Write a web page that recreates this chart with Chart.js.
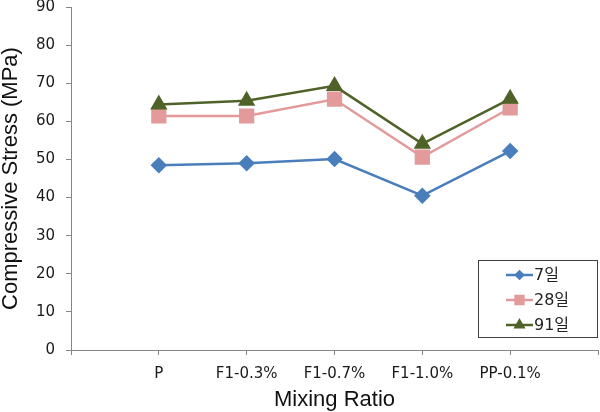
<!DOCTYPE html>
<html>
<head>
<meta charset="utf-8">
<script src="https://cdn.jsdelivr.net/npm/chart.js"></script>
<style>
  html, body { margin: 0; padding: 0; background: #fff; }
</style>
</head>
<body>
<canvas id="myChart" width="600" height="412"></canvas>
<script>
// categories on x axis
const mixes = ['P', 'F1-0.3%', 'F1-0.7%', 'F1-1.0%', 'PP-0.1%'];
// compressive stress (MPa) per curing age
const day7 = [48.5, 49.0, 50.1, 40.5, 52.2];
const day28 = [61.4, 61.4, 65.8, 50.6, 63.5];
const day91 = [64.4, 65.4, 69.3, 54.1, 65.9];
const seriesNames = ['7일', '28일', '91일'];
const yTicks = [0, 10, 20, 30, 40, 50, 60, 70, 80, 90];

const toPoints = vals => vals.map((v, i) => ({ x: i + 1, y: v }));

// legend box drawn inside the plot, bottom right
const boxLegend = {
    id: 'boxLegend',
    afterDraw(chart) {
        const ctx = chart.ctx;
        const area = chart.chartArea;
        const w = 120, h = 78;
        const x0 = area.right - w, y0 = area.bottom - h - 12;
        ctx.save();
        ctx.fillStyle = '#fff';
        ctx.fillRect(x0, y0, w, h);
        ctx.strokeStyle = '#404040';
        ctx.lineWidth = 1;
        ctx.strokeRect(x0 + 0.5, y0 + 0.5, w - 1, h - 1);
        chart.data.datasets.forEach((ds, i) => {
            const cy = y0 + 15 + i * 25;
            ctx.strokeStyle = ds.borderColor;
            ctx.lineWidth = 2.5;
            ctx.beginPath();
            ctx.moveTo(x0 + 28, cy);
            ctx.lineTo(x0 + 55, cy);
            ctx.stroke();
            ctx.fillStyle = ds.borderColor;
            ctx.strokeStyle = ds.borderColor;
            Chart.helpers.drawPoint(ctx, {
                pointStyle: ds.pointStyle,
                radius: ds.legendRadius,
                rotation: 0,
                borderWidth: 1
            }, x0 + 41.5, cy);
            ctx.fillStyle = '#222';
            ctx.font = '16px "DejaVu Sans", "Noto Sans CJK KR"';
            ctx.textAlign = 'left';
            ctx.textBaseline = 'middle';
            ctx.fillText(ds.label, x0 + 56, cy + 1);
        });
        ctx.restore();
    }
};

const ctx = document.getElementById('myChart').getContext('2d');
const myChart = new Chart(ctx, {
    type: 'line',
    data: {
        datasets: [{
            label: seriesNames[0],
            data: toPoints(day7),
            borderColor: '#4a7ebb',
            backgroundColor: '#4a7ebb',
            borderWidth: 2.5,
            pointStyle: 'rectRot',
            pointRadius: 6.5,
            legendRadius: 3.5,
            order: 3
        }, {
            label: seriesNames[1],
            data: toPoints(day28),
            borderColor: '#e39a9a',
            backgroundColor: '#e39a9a',
            borderWidth: 2.5,
            pointStyle: 'rect',
            pointRadius: 9,
            legendRadius: 5.5,
            order: 2
        }, {
            label: seriesNames[2],
            data: toPoints(day91),
            borderColor: '#4f6228',
            backgroundColor: '#4f6228',
            borderWidth: 2.5,
            pointStyle: 'triangle',
            pointRadius: 7.5,
            legendRadius: 4.5,
            order: 1
        }]
    },
    options: {
        responsive: false,
        animation: false,
        devicePixelRatio: 1,
        layout: { autoPadding: false, padding: { top: 7, right: 2, left: 0, bottom: 0 } },
        elements: {
            line: { tension: 0 },
            point: { borderWidth: 1, hoverRadius: 7 }
        },
        plugins: {
            legend: { display: false },
            tooltip: { enabled: false }
        },
        scales: {
            x: {
                type: 'linear',
                min: 0,
                max: mixes.length + 1,
                afterFit: s => {
                    s.height = 62;
                    s.paddingLeft = 0;
                    s.paddingRight = 0;
                },
                afterBuildTicks: s => {
                    s.ticks = [0, 1, 2, 3, 4, 5, 6].map(v => ({ value: v }));
                },
                ticks: {
                    autoSkip: false,
                    maxRotation: 0,
                    padding: 10,
                    color: '#1a1a1a',
                    font: { family: 'DejaVu Sans', size: 15 },
                    callback: v => mixes[v - 1] || ''
                },
                grid: { drawOnChartArea: false, tickLength: 5, color: '#868686' },
                border: { color: '#868686', width: 1 },
                title: {
                    display: true,
                    text: 'Mixing Ratio',
                    color: '#111',
                    font: { family: 'Liberation Sans', size: 22, lineHeight: 1 },
                    padding: { top: 0, bottom: 1 }
                }
            },
            y: {
                min: 0,
                max: 90,
                afterFit: s => {
                    s.width = 71;
                    s.paddingTop = 0;
                    s.paddingBottom = 0;
                },
                afterBuildTicks: s => {
                    s.ticks = yTicks.map(v => ({ value: v }));
                },
                ticks: {
                    padding: 11,
                    color: '#1a1a1a',
                    font: { family: 'DejaVu Sans', size: 15 }
                },
                grid: { drawOnChartArea: false, tickLength: 5, color: '#868686' },
                border: { color: '#868686', width: 1 },
                title: {
                    display: true,
                    text: 'Compressive Stress (MPa)',
                    color: '#111',
                    font: { family: 'Liberation Sans', size: 22, lineHeight: 1 },
                    padding: { top: 0, bottom: 0 }
                }
            }
        }
    },
    plugins: [boxLegend]
});
</script>
</body>
</html>
